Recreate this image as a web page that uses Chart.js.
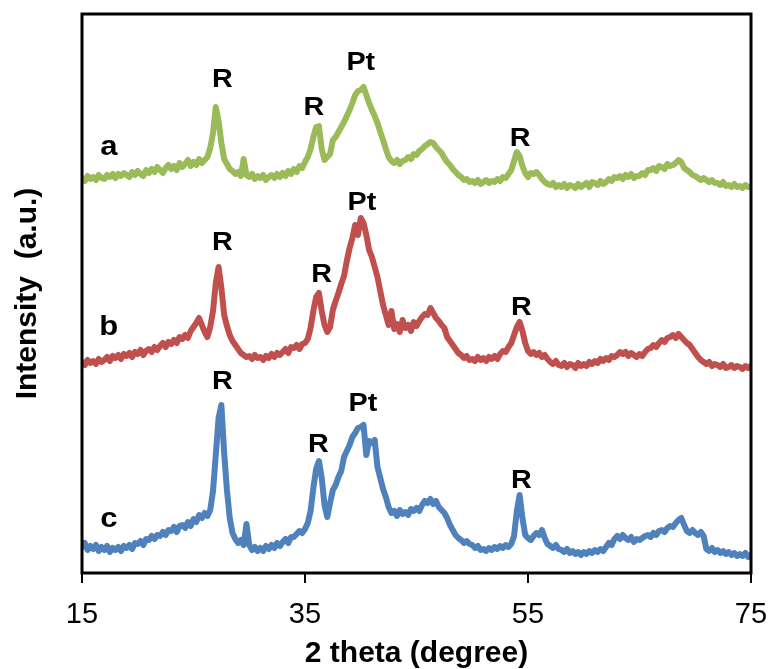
<!DOCTYPE html>
<html>
<head>
<meta charset="utf-8">
<title>XRD patterns</title>
<script src="https://cdn.jsdelivr.net/npm/chart.js@4.4.1/dist/chart.umd.min.js"></script>
<style>
  html, body { margin: 0; padding: 0; background: #fff; }
  canvas { display: block; }
</style>
</head>
<body>
<canvas id="xrdChart" width="771" height="669"></canvas>
<script>
// XRD patterns of three samples (a, b, c), offset vertically, intensity in a.u.

// 2 theta scan points (degree)
const theta = [
  15, 15.25, 15.5, 15.75, 16, 16.25, 16.5, 16.75,
  17, 17.25, 17.5, 17.75, 18, 18.25, 18.5, 18.75,
  19, 19.25, 19.5, 19.75, 20, 20.25, 20.5, 20.75,
  21, 21.25, 21.5, 21.75, 22, 22.25, 22.5, 22.75,
  23, 23.25, 23.5, 23.75, 24, 24.25, 24.5, 24.75,
  25, 25.25, 25.5, 25.75, 26, 26.25, 26.5, 26.75,
  27, 27.25, 27.5, 27.75, 28, 28.25, 28.5, 28.75,
  29, 29.25, 29.5, 29.75, 30, 30.25, 30.5, 30.75,
  31, 31.25, 31.5, 31.75, 32, 32.25, 32.5, 32.75,
  33, 33.25, 33.5, 33.75, 34, 34.25, 34.5, 34.75,
  35, 35.25, 35.5, 35.75, 36, 36.25, 36.5, 36.75,
  37, 37.25, 37.5, 37.75, 38, 38.25, 38.5, 38.75,
  39, 39.25, 39.5, 39.75, 40, 40.25, 40.5, 40.75,
  41, 41.25, 41.5, 41.75, 42, 42.25, 42.5, 42.75,
  43, 43.25, 43.5, 43.75, 44, 44.25, 44.5, 44.75,
  45, 45.25, 45.5, 45.75, 46, 46.25, 46.5, 46.75,
  47, 47.25, 47.5, 47.75, 48, 48.25, 48.5, 48.75,
  49, 49.25, 49.5, 49.75, 50, 50.25, 50.5, 50.75,
  51, 51.25, 51.5, 51.75, 52, 52.25, 52.5, 52.75,
  53, 53.25, 53.5, 53.75, 54, 54.25, 54.5, 54.75,
  55, 55.25, 55.5, 55.75, 56, 56.25, 56.5, 56.75,
  57, 57.25, 57.5, 57.75, 58, 58.25, 58.5, 58.75,
  59, 59.25, 59.5, 59.75, 60, 60.25, 60.5, 60.75,
  61, 61.25, 61.5, 61.75, 62, 62.25, 62.5, 62.75,
  63, 63.25, 63.5, 63.75, 64, 64.25, 64.5, 64.75,
  65, 65.25, 65.5, 65.75, 66, 66.25, 66.5, 66.75,
  67, 67.25, 67.5, 67.75, 68, 68.25, 68.5, 68.75,
  69, 69.25, 69.5, 69.75, 70, 70.25, 70.5, 70.75,
  71, 71.25, 71.5, 71.75, 72, 72.25, 72.5, 72.75,
  73, 73.25, 73.5, 73.75, 74, 74.25, 74.5, 74.75,
  75
];

// sample a (top, green)
const intensityA = [
  395, 392, 397, 394, 396, 393, 398, 395,
  394, 398, 396, 399, 395, 399, 397, 400,
  398, 396, 401, 398, 402, 399, 397, 403,
  400, 404, 401, 406, 403, 400, 405, 408,
  404, 407, 403, 410, 406, 409, 413, 407,
  411, 408, 414, 410, 413, 416, 425, 440,
  466, 452, 430, 414, 409, 404, 402, 399,
  401, 397, 414, 398, 396, 399, 394, 397,
  395, 398, 393, 396, 398, 395, 399, 396,
  400, 397, 402, 399, 404, 401, 407, 405,
  411, 416, 424, 436, 446, 447, 424, 413,
  416, 419, 433, 436, 441, 446, 451, 457,
  463, 470, 478, 482, 483, 486, 478, 470,
  463, 457, 450, 441, 433, 424, 416, 412,
  410, 413, 409, 412, 413, 416, 414, 419,
  418, 422, 424, 427, 429, 431, 430, 426,
  423, 420, 415, 411, 408, 404, 401, 398,
  396, 393, 394, 391, 392, 390, 393, 389,
  391, 393, 390, 392, 391, 394, 392, 396,
  395, 399, 403, 412, 421, 417, 407, 400,
  396, 400, 399, 401, 398, 394, 391, 389,
  388, 390, 386, 388, 386, 389, 385, 388,
  387, 385, 389, 386, 388, 390, 386, 391,
  390, 388, 392, 389, 391, 394, 392, 396,
  395, 397, 394, 398, 396, 399, 395, 397,
  397, 400, 398, 403, 403, 405, 402, 407,
  406, 404, 409, 407, 408, 410, 413, 411,
  405, 403, 401, 398, 397, 395, 393, 395,
  393, 391, 393, 390, 390, 388, 391, 387,
  388, 386, 389, 386, 387, 385, 388, 386,
  386
];

// sample b (middle, red)
const intensityB = [
  211, 208, 213, 210, 212, 209, 214, 211,
  213, 216, 212, 217, 215, 218, 214, 219,
  217, 220, 216, 221, 219, 223, 218, 222,
  224, 221, 226, 223, 227, 230, 226, 231,
  229, 233, 230, 236, 234, 238, 235, 242,
  246, 250, 255, 248, 241, 236, 246, 262,
  290, 306, 285, 258, 247, 238, 232, 228,
  224, 220, 218, 216, 217, 214, 218, 215,
  216, 213, 217, 215, 219, 216, 220, 218,
  221, 224, 220, 226, 225, 228, 224, 229,
  230, 234, 245, 262, 276, 280, 262, 248,
  241, 246, 263, 272, 280, 289, 297, 312,
  325, 335, 348, 338, 355, 350, 338, 323,
  316, 306, 296, 282, 268, 258, 248, 262,
  244, 249, 241, 253, 245, 248, 242, 251,
  247, 252, 256, 259, 258, 265, 260, 255,
  252, 248, 245, 236, 232, 228, 224, 220,
  218, 215, 217, 213, 214, 212, 216, 213,
  215, 212, 216, 214, 217, 214, 219, 222,
  221, 226, 230, 238, 246, 251, 242, 230,
  222, 219, 221, 218, 220, 216, 218, 214,
  211, 209, 212, 208, 207, 210, 206, 209,
  208, 205, 210, 207, 209, 207, 211, 209,
  212, 210, 214, 212, 215, 213, 217, 216,
  218, 221, 219, 221, 217, 220, 218, 216,
  219, 217, 221, 224, 225, 228, 226, 230,
  233, 231, 235, 236, 238, 235, 239, 236,
  233, 230, 228, 224, 220, 216, 213, 211,
  209, 211, 207, 209, 208, 206, 209, 205,
  206, 208, 205, 207, 206, 204, 207, 205,
  207
];

// sample c (bottom, blue)
const intensityC = [
  26, 30, 23, 27, 24, 28, 22, 26,
  23, 27, 21, 25, 23, 26, 22, 27,
  25, 28, 24, 30, 29, 32, 28, 34,
  33, 37, 34, 38, 37, 41, 38, 43,
  42, 46, 41, 47, 48, 45, 51, 47,
  54, 51, 58, 55, 60, 57, 63, 82,
  118, 155, 168, 120, 83, 55, 40, 34,
  30, 33, 28, 49, 28, 23, 26, 22,
  25, 22, 27, 24, 28, 25, 30, 27,
  31, 34, 30, 36, 36, 39, 42, 40,
  44, 50, 62, 85, 104, 112, 95, 68,
  56, 70, 83, 88, 96, 102, 116, 122,
  128, 136, 140, 145, 146, 148, 118, 132,
  130, 133, 106, 95, 84, 76, 66, 60,
  62, 57, 63, 59, 61, 58, 64, 62,
  65, 62, 68, 72, 70, 74, 69, 72,
  66, 63, 60, 55, 48, 43, 38, 35,
  33, 30, 32, 29, 28, 25, 27, 23,
  24, 22, 25, 23, 26, 24, 27, 25,
  28, 26, 29, 37, 62, 78, 55, 38,
  35, 33, 37, 40, 38, 43, 35, 29,
  27, 25, 28, 24, 23, 21, 24, 20,
  22, 19, 21, 18, 21, 19, 22, 20,
  23, 21, 24, 22, 26, 30, 28, 34,
  37, 34, 38, 35, 33, 36, 31, 34,
  33, 35, 37, 38, 36, 40, 38, 42,
  43, 41, 45, 47, 46, 50, 53, 55,
  48, 42, 40, 43, 40, 38, 41, 37,
  24, 22, 25, 21, 23, 20, 22, 19,
  21, 18, 20, 17, 19, 17, 20, 16,
  18
];

const xTicks = [15, 35, 55, 75];

// trace names and peak assignments, placed in data units
const traceNames = ['a', 'b', 'c'];
const traceNameTheta = [17.4, 17.4, 17.4];
const traceNameValue = [425, 245, 53];
const peakText = ['R', 'R', 'Pt', 'R'];
const peakTheta = [
  [27.6, 35.8, 40.0, 54.3],
  [27.6, 36.5, 40.1, 54.4],
  [27.6, 36.2, 40.2, 54.4]
];
const peakValue = [
  [493, 465, 510, 434],
  [330, 298, 370, 265],
  [191, 128, 169, 92]
];

(function () {
    const FONT = '"Liberation Sans", Arial, Helvetica, sans-serif';
    const colors = ['#9BBB59', '#C0504D', '#4F81BD'];

    function toPoints(values) {
        return theta.map((t, i) => ({ x: t, y: values[i] }));
    }

    // ---------------------------
    // Frame round the plot area
    // ---------------------------
    const framePlugin = {
        id: 'frame',
        afterDatasetsDraw(chart) {
            const { ctx, chartArea: a } = chart;
            ctx.save();
            ctx.strokeStyle = '#000';
            ctx.lineWidth = 3;
            ctx.strokeRect(a.left, a.top, a.right - a.left, a.bottom - a.top);
            ctx.restore();
        }
    };

    // ---------------------------
    // Text labels (a/b/c, R, Pt)
    // ---------------------------
    const labelPlugin = {
        id: 'peakLabels',
        afterDatasetsDraw(chart) {
            const { ctx, scales: { x, y } } = chart;
            function put(text, t, v, size) {
                ctx.save();
                ctx.translate(x.getPixelForValue(t), y.getPixelForValue(v));
                ctx.scale(1.15, 1);
                ctx.font = 'bold ' + size + 'px ' + FONT;
                ctx.fillStyle = '#000';
                ctx.textAlign = 'center';
                ctx.textBaseline = 'middle';
                ctx.fillText(text, 0, 0);
                ctx.restore();
            }
            traceNames.forEach((n, i) => put(n, traceNameTheta[i], traceNameValue[i], 27));
            peakTheta.forEach((row, s) => {
                row.forEach((t, k) => put(peakText[k], t, peakValue[s][k], 25));
            });
        }
    };

    const ctx = document.getElementById('xrdChart').getContext('2d');

    new Chart(ctx, {
        type: 'line',
        data: {
            datasets: [intensityA, intensityB, intensityC].map((vals, i) => ({
                label: traceNames[i],
                data: toPoints(vals),
                borderColor: colors[i],
                borderWidth: 6,
                pointRadius: 0,
                tension: 0,
                fill: false,
                borderJoinStyle: 'round',
                borderCapStyle: 'round'
            }))
        },
        options: {
            responsive: false,
            animation: false,
            layout: { padding: { top: 14, right: 20, left: 0, bottom: 0 } },
            plugins: { legend: { display: false }, tooltip: { enabled: false } },
            scales: {
                x: {
                    type: 'linear',
                    min: 15,
                    max: 75,
                    afterBuildTicks: scale => { scale.ticks = xTicks.map(v => ({ value: v })); },
                    afterFit: scale => {
                        scale.height = 96;
                        scale.paddingLeft = 0;
                        scale.paddingRight = 0;
                    },
                    grid: { display: true, drawOnChartArea: false, drawTicks: true, tickLength: 10, color: '#000', lineWidth: 2 },
                    border: { display: false },
                    ticks: { color: '#000', padding: 15, maxRotation: 0, font: { family: FONT, size: 29 } },
                    title: {
                        display: true,
                        text: '2 theta (degree)',
                        color: '#000',
                        padding: { top: 0, bottom: 0 },
                        font: { family: FONT, size: 30, weight: 'bold', lineHeight: 1 }
                    }
                },
                y: {
                    min: 0,
                    max: 559,
                    afterFit: scale => { scale.width = 82; },
                    grid: { display: false },
                    border: { display: false },
                    ticks: { display: false },
                    title: {
                        display: true,
                        text: 'Intensity  (a.u.)',
                        color: '#000',
                        padding: { top: 10, bottom: 0 },
                        font: { family: FONT, size: 30, weight: 'bold', lineHeight: 1.2 }
                    }
                }
            }
        },
        plugins: [framePlugin, labelPlugin]
    });
})();
</script>
</body>
</html>
